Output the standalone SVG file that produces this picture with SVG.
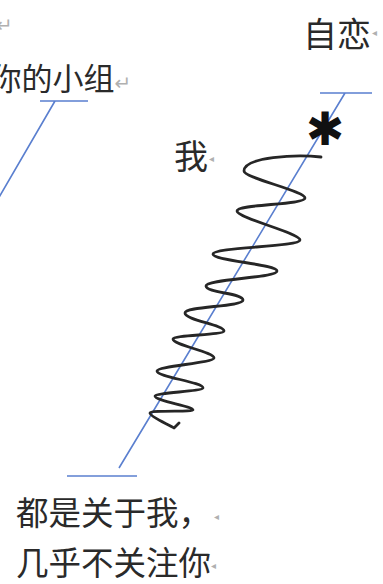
<svg xmlns="http://www.w3.org/2000/svg" width="383" height="584" viewBox="0 0 383 584">
<style>
.t{font-family:"Noto Sans CJK SC","Noto Sans",sans-serif;fill:#2a2a2a}
.m{font-family:"DejaVu Sans",sans-serif;fill:#b0b0b0}
.ln{stroke:#5a7fcf;stroke-width:1.6;fill:none}
.coil{stroke:#262626;stroke-width:2.8;fill:none;stroke-linecap:round;stroke-linejoin:round}
</style>
<rect width="383" height="584" fill="#fff"/>
<g id="connectors">
<path class="ln" d="M40,101 H88 M55,101 L-2,199"/>
<path class="ln" d="M320,93 H372 M345,93 L119,468"/>
<path class="ln" d="M67,476 H137"/>
</g>
<g id="mark-top">
<text class="m" x="-4" y="32" font-size="20">↵</text>
</g>
<g id="node-group">
<text class="t" x="-9.5" y="90" font-size="31">你的小组<tspan class="m" font-size="20">↵</tspan></text>
</g>
<g id="node-narcissism">
<text class="t" x="303" y="47" font-size="34">自恋</text>
<text class="m" x="372" y="36" font-size="10">◂</text>
</g>
<g id="node-me">
<text class="t" x="174" y="169" font-size="34">我</text>
<text class="m" x="209" y="162" font-size="10">◂</text>
</g>
<g id="asterisk">
<text x="325" y="145" font-size="46" text-anchor="middle" font-family="DejaVu Sans,sans-serif" font-weight="bold" fill="#111">✱</text>
</g>
<g id="coil">
<path class="coil" d="M321,157 C296,154 244,157 244,171 C244,178 305,191 305,198 C305,205 237,204 237,211 C237,218 300,233 300,240 C300,247 213,247 213,254 C213,261 277,264 277,271 C277,278 206,279 206,286 C206,293 243,293 243,300 C243,307 185,306 185,313 C185,320 224,325 224,331 C224,335 173,335 173,339 C173,345 214,352 214,358 C214,363 157,366 157,371 C157,377 203,382 203,388 C203,391 155,393 155,396 C155,401 193,406 193,410 C193,412 150,410 150,413 C150,417 170,425 174,428 L179,423"/>
</g>
<g id="node-bottom">
<text class="t" x="16" y="525" font-size="32.5">都是关于我，</text>
<text class="m" x="214" y="520" font-size="10">◂</text>
<text class="t" x="16" y="575" font-size="32.5">几乎不关注你</text>
<text class="m" x="211" y="569" font-size="10">◂</text>
</g>
</svg>
